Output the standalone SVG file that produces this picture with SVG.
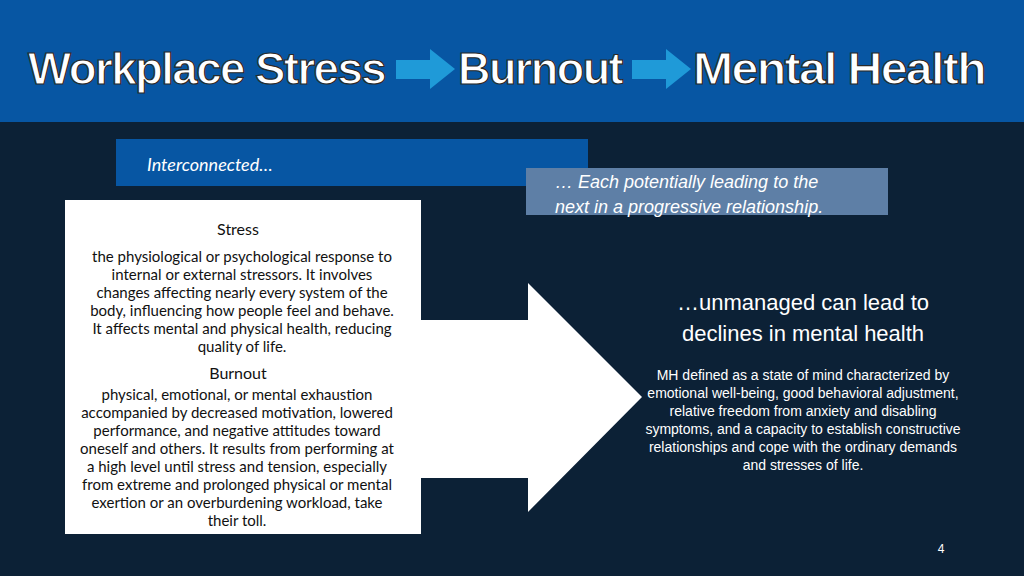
<svg xmlns="http://www.w3.org/2000/svg" width="1024" height="576" viewBox="0 0 1024 576">
<style>
.t{font-family:"Liberation Sans",Arial,sans-serif;font-weight:900;font-size:44px;fill:#fff;stroke:#2a2a2a;stroke-width:1.2;letter-spacing:-1.5px}
.b{font-family:Lato,"Open Sans",sans-serif;font-size:15px;fill:#111;text-anchor:middle}
.h{font-family:Lato,sans-serif;font-size:16px;fill:#111;text-anchor:middle}
.w{font-family:"Liberation Sans",Arial,sans-serif;fill:#fff;text-anchor:middle}
.ar{fill:#1f9ad8}
</style>
<rect width="1024" height="576" fill="#0c2136"/>
<rect width="1024" height="122" fill="#0756a3"/>
<g id="title">
<text class="t" x="28" y="84" textLength="357" lengthAdjust="spacingAndGlyphs">Workplace Stress</text>
<text class="t" x="458" y="84" textLength="164" lengthAdjust="spacingAndGlyphs">Burnout</text>
<text class="t" x="693" y="84" textLength="292" lengthAdjust="spacingAndGlyphs">Mental Health</text>
<polygon class="ar" points="396,60 430,60 430,49 455,69 430,89 430,79 396,79"/>
<polygon class="ar" points="632,60 666,60 666,49 691,69 666,89 666,79 632,79"/>
</g>
<g id="interconnected">
<rect x="116" y="139" width="472" height="47" fill="#0756a3"/>
<text x="147" y="171" font-family="Lato,sans-serif" font-style="italic" font-size="18" fill="#fff">Interconnected…</text>
</g>
<g id="each">
<rect x="526" y="168" width="362" height="47" fill="#5e7fa6"/>
<text x="555" y="188" font-family="'Liberation Sans',Arial,sans-serif" font-style="italic" font-size="18" fill="#fff">… Each potentially leading to the</text>
<text x="555" y="213" font-family="'Liberation Sans',Arial,sans-serif" font-style="italic" font-size="18" fill="#fff">next in a progressive relationship.</text>
</g>
<g id="defs-box">
<rect x="65" y="200" width="356" height="334" fill="#fff"/>
<text class="h" x="238" y="235">Stress</text>
<text class="b" x="242" y="262">the physiological or psychological response to</text>
<text class="b" x="242" y="280">internal or external stressors. It involves</text>
<text class="b" x="242" y="298">changes affecting nearly every system of the</text>
<text class="b" x="242" y="316">body, influencing how people feel and behave.</text>
<text class="b" x="242" y="334">It affects mental and physical health, reducing</text>
<text class="b" x="242" y="352">quality of life.</text>
<text class="h" x="238" y="379">Burnout</text>
<text class="b" x="237" y="400">physical, emotional, or mental exhaustion</text>
<text class="b" x="237" y="418">accompanied by decreased motivation, lowered</text>
<text class="b" x="237" y="436">performance, and negative attitudes toward</text>
<text class="b" x="237" y="454">oneself and others. It results from performing at</text>
<text class="b" x="237" y="472">a high level until stress and tension, especially</text>
<text class="b" x="237" y="490">from extreme and prolonged physical or mental</text>
<text class="b" x="237" y="508">exertion or an overburdening workload, take</text>
<text class="b" x="237" y="526">their toll.</text>
</g>
<g id="connectors">
<polygon points="421,320 528,320 528,283 642,397 528,512 528,478 421,478" fill="#fff"/>
</g>
<g id="mh">
<text class="w" x="803" y="310" font-size="22">…unmanaged can lead to</text>
<text class="w" x="803" y="341" font-size="22">declines in mental health</text>
<text class="w" x="803" y="380" font-size="14">MH defined as a state of mind characterized by</text>
<text class="w" x="803" y="398" font-size="14">emotional well-being, good behavioral adjustment,</text>
<text class="w" x="803" y="416" font-size="14">relative freedom from anxiety and disabling</text>
<text class="w" x="803" y="434" font-size="14">symptoms, and a capacity to establish constructive</text>
<text class="w" x="803" y="452" font-size="14">relationships and cope with the ordinary demands</text>
<text class="w" x="803" y="470" font-size="14">and stresses of life.</text>
<text class="w" x="941" y="553" font-size="12">4</text>
</g>
</svg>
